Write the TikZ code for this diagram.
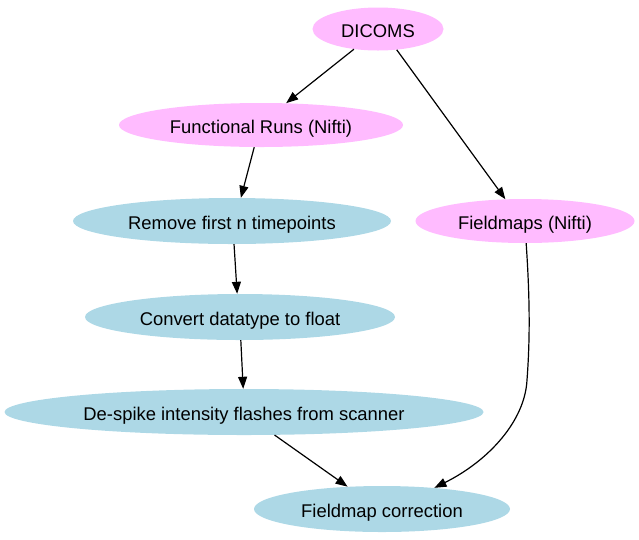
\documentclass[tikz,border=0pt]{standalone}
\usepackage{fontspec}
\setmainfont{Liberation Sans}
\usetikzlibrary{shapes.geometric,arrows.meta}
\definecolor{pinkfill}{HTML}{FFBBFF}
\definecolor{bluefill}{HTML}{ADD8E6}
\begin{document}
\begin{tikzpicture}[x=1pt,y=-1pt,
  every node/.style={ellipse,inner sep=0pt,text height=17pt,text depth=0pt,font=\fontsize{18.4}{20}\selectfont},
  pinknode/.style={fill=pinkfill},
  bluenode/.style={fill=bluefill},
  edge/.style={line width=1.2pt,-{Triangle[length=12pt,width=9pt]}}]
\useasboundingbox (0,0) rectangle (639,539);
\node[pinknode,minimum width=131pt,minimum height=43pt] (dicoms) at (378,29) {DICOMS};
\node[pinknode,minimum width=284pt,minimum height=44pt] (func) at (261,125) {Functional Runs (Nifti)};
\node[pinknode,minimum width=219pt,minimum height=44pt] (fmap) at (525,221) {Fieldmaps (Nifti)};
\node[bluenode,minimum width=318pt,minimum height=46pt] (remove) at (232,221) {Remove first n timepoints};
\node[bluenode,minimum width=310pt,minimum height=46pt] (convert) at (240,317) {Convert datatype to float};
\node[bluenode,minimum width=479pt,minimum height=46pt] (despike) at (244,412) {De-spike intensity flashes from scanner};
\node[bluenode,minimum width=256pt,minimum height=46pt] (fc) at (382,509) {Fieldmap correction};
\draw[edge] (dicoms.220) -- (func.41);
\draw[edge] (dicoms.-48) -- (fmap.132);
\draw[edge] (func.253) -- (remove.69);
\draw[edge] (remove.275) -- (convert.97);
\draw[edge] (convert.272) -- (despike.92);
\draw[edge] (despike.-37) -- (fc.147);
\draw[edge] (fmap.273) .. controls (530,300) and (530,340) .. (527,380)
  .. controls (525,420) and (490,460) .. (fc.22);
\end{tikzpicture}
\end{document}
